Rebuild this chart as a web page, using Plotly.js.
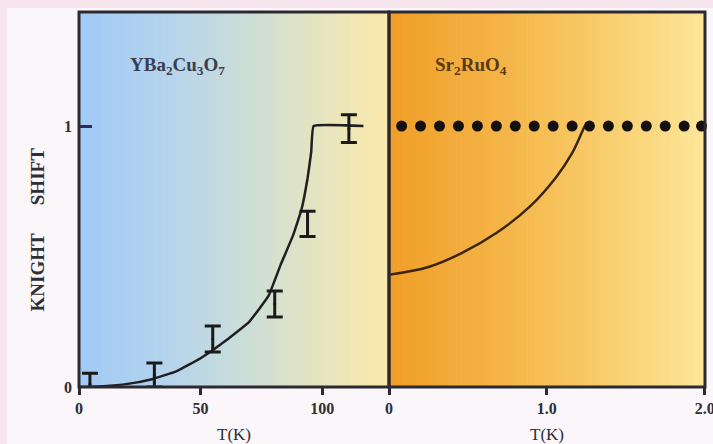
<!DOCTYPE html>
<html>
<head>
<meta charset="utf-8">
<script src="https://cdn.plot.ly/plotly-3.0.1.min.js"></script>
<style>html,body{margin:0;padding:0;background:#fbf6f9;}#chart{width:713px;height:444px;}</style>
</head>
<body>
<div id="chart"></div>
<script>
// YBa2Cu3O7 data (T in K, Knight shift normalised)
const ybcoX = [4.5, 31, 55, 80.5, 94, 111];
const ybcoY = [0.011, 0.046, 0.184, 0.318, 0.625, 0.99];
const ybcoErr = [0.042, 0.046, 0.05, 0.05, 0.048, 0.053];
const ybcoFitX = [0, 10, 20, 30, 40, 50, 60, 70, 78, 83, 88, 91.5, 94, 95.5, 96.5, 117];
const ybcoFitY = [0, 0.003, 0.012, 0.03, 0.06, 0.11, 0.175, 0.25, 0.35, 0.47, 0.58, 0.68, 0.8, 0.9, 1.0, 1.0];
// Sr2RuO4 data (T in K)
const sroX = [0.08, 0.2, 0.32, 0.44, 0.56, 0.68, 0.8, 0.92, 1.04, 1.16, 1.27, 1.39, 1.51, 1.63, 1.75, 1.87, 1.98];
const sroY = [1, 1, 1, 1, 1, 1, 1, 1, 1, 1, 1, 1, 1, 1, 1, 1, 1];
const sroFitX = [0, 0.25, 0.46, 0.68, 0.89, 1.06, 1.16, 1.22, 1.24];
const sroFitY = [0.43, 0.46, 0.513, 0.59, 0.69, 0.805, 0.896, 0.973, 1.0];
// tick labels
const leftTicks = [0, 50, 100];
const leftTickText = ['0', '50', '100'];
const rightTicks = [0, 1, 2];
const rightTickText = ['0', '1.0', '2.0'];
const yTicks = [0, 1];
const yTickText = ['0', '1'];

const W = 713, H = 444, ML = 79, MR = 8, MT = 12, MB = 57;
const PW = W - ML - MR, PH = H - MT - MB;
const split = (389 - ML) / PW;

function lerpColor(stops, t) {
  for (let i = 0; i < stops.length - 1; i++) {
    const a = stops[i], b = stops[i + 1];
    if (t >= a[0] && t <= b[0]) {
      const u = (t - a[0]) / (b[0] - a[0]);
      const c = [0, 1, 2].map(k => Math.round(a[1][k] + (b[1][k] - a[1][k]) * u));
      return 'rgb(' + c.join(',') + ')';
    }
  }
  const l = stops[stops.length - 1][1];
  return 'rgb(' + l.join(',') + ')';
}
const leftStops = [[0, [160, 202, 246]], [0.3, [182, 212, 236]], [0.55, [205, 222, 214]], [0.8, [232, 229, 190]], [1, [252, 233, 170]]];
const rightStops = [[0, [240, 158, 40]], [0.35, [244, 180, 70]], [0.7, [249, 206, 110]], [1, [253, 230, 155]]];

const shapes = [];
const N = 80;
for (let i = 0; i < N; i++) {
  const t = (i + 0.5) / N;
  shapes.push({type: 'rect', xref: 'paper', yref: 'paper', layer: 'below',
    x0: split * i / N, x1: split * (i + 1) / N + 0.001, y0: 0, y1: 1,
    line: {width: 0}, fillcolor: lerpColor(leftStops, t)});
  shapes.push({type: 'rect', xref: 'paper', yref: 'paper', layer: 'below',
    x0: split + (1 - split) * i / N, x1: split + (1 - split) * (i + 1) / N + 0.001, y0: 0, y1: 1,
    line: {width: 0}, fillcolor: lerpColor(rightStops, t)});
}
// pinkish page edges
shapes.push({type: 'rect', xref: 'paper', yref: 'paper', layer: 'below',
  x0: -ML / PW, x1: 1 + MR / PW, y0: 1 + 4 / PH, y1: 1 + MT / PH, line: {width: 0}, fillcolor: 'rgb(248,230,238)'});
shapes.push({type: 'rect', xref: 'paper', yref: 'paper', layer: 'below',
  x0: -ML / PW, x1: -ML / PW + 7 / PW, y0: -MB / PH, y1: 1 + MT / PH, line: {width: 0}, fillcolor: 'rgb(248,230,238)'});
// frames
shapes.push({type: 'rect', xref: 'paper', yref: 'paper', layer: 'above',
  x0: 0, x1: split, y0: 0, y1: 1, line: {width: 3, color: '#2c2a30'}});
shapes.push({type: 'rect', xref: 'paper', yref: 'paper', layer: 'above',
  x0: split, x1: 1, y0: 0, y1: 1, line: {width: 3, color: '#2c2a30'}});

const serif = 'Liberation Serif, Times New Roman, serif';

const traces = [
  {x: ybcoFitX, y: ybcoFitY, xaxis: 'x', yaxis: 'y', mode: 'lines',
   line: {color: '#1f1f24', width: 2.5, shape: 'spline', smoothing: 0.3}, cliponaxis: false, hoverinfo: 'skip'},
  {x: ybcoX, y: ybcoY, xaxis: 'x', yaxis: 'y', mode: 'markers',
   marker: {size: 3, color: '#1a1a1a'}, cliponaxis: false,
   error_y: {type: 'data', array: ybcoErr, visible: true, color: '#1a1a1a', thickness: 3, width: 8}},
  {x: sroFitX, y: sroFitY, xaxis: 'x2', yaxis: 'y', mode: 'lines',
   line: {color: '#3a2510', width: 2.5, shape: 'spline'}, cliponaxis: false, hoverinfo: 'skip'},
  {x: sroX, y: sroY, xaxis: 'x2', yaxis: 'y', mode: 'markers',
   marker: {size: 11, color: '#141010'}, cliponaxis: false}
];

const tickFont = {family: serif, size: 16, color: '#2e2e36', weight: 'bold'};
const titleFont = {family: serif, size: 17, color: '#2e2e36'};
const layout = {
  width: W, height: H,
  margin: {l: ML, r: MR, t: MT, b: MB, pad: 0},
  paper_bgcolor: '#fbf6f9',
  plot_bgcolor: 'rgba(0,0,0,0)',
  showlegend: false,
  xaxis: {domain: [0, split], range: [0, 127.5], anchor: 'y', showgrid: false, zeroline: false,
    showline: false, ticks: 'outside', ticklen: 7, tickwidth: 3, tickcolor: '#2c2a30',
    tickvals: leftTicks, ticktext: leftTickText, tickfont: tickFont, ticklabeloverflow: 'allow',
    title: {text: 'T(K)', font: titleFont, standoff: 12}},
  xaxis2: {domain: [split, 1], range: [0, 2.002], anchor: 'y', showgrid: false, zeroline: false,
    showline: false, ticks: 'outside', ticklen: 7, tickwidth: 3, tickcolor: '#2c2a30',
    tickvals: rightTicks, ticktext: rightTickText, tickfont: tickFont, ticklabeloverflow: 'allow',
    title: {text: 'T(K)', font: titleFont, standoff: 12}},
  yaxis: {domain: [0, 1], range: [0, 1.437], anchor: 'x', showgrid: false, zeroline: false,
    showline: false, ticks: 'inside', ticklen: 13, tickwidth: 3, tickcolor: '#2c2a60',
    tickvals: yTicks, ticktext: yTickText, tickfont: tickFont, ticklabelstandoff: 6},
  shapes: shapes,
  annotations: [
    {text: 'YBa<sub>2</sub>Cu<sub>3</sub>O<sub>7</sub>', xref: 'paper', yref: 'paper',
     x: (128 - ML) / PW, xanchor: 'left', y: 1 - (52 - MT) / PH, showarrow: false,
     font: {family: serif, size: 19, color: '#3a3d50', weight: 'bold'}},
    {text: 'Sr<sub>2</sub>RuO<sub>4</sub>', xref: 'paper', yref: 'paper',
     x: (433 - ML) / PW, xanchor: 'left', y: 1 - (52 - MT) / PH, showarrow: false,
     font: {family: serif, size: 19, color: '#5a3a12', weight: 'bold'}},
    {text: 'KNIGHT      SHIFT', xref: 'paper', yref: 'paper', textangle: -90,
     x: (24 - ML) / PW, y: 1 - (230 - MT) / PH, showarrow: false,
     font: {family: serif, size: 19, color: '#2e2e36', weight: 'bold'}}
  ]
};

Plotly.newPlot('chart', traces, layout, {displayModeBar: false, staticPlot: true});
</script>
</body>
</html>
